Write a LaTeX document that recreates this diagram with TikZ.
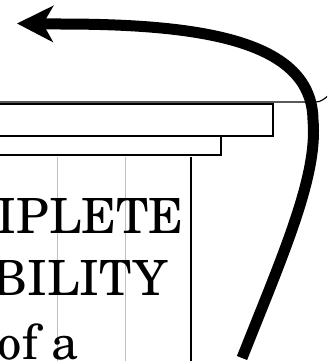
\documentclass[tikz,border=0pt]{standalone}
\usepackage{fontspec}
\setmainfont{TeX Gyre Schola}
\usetikzlibrary{arrows.meta}
\begin{document}
\begin{tikzpicture}[x=1pt,y=-1pt,
  boxstyle/.style={draw, line width=2pt, inner sep=0pt, fill=white},
  bigtext/.style={inner sep=0pt, font=\fontsize{48.5}{62}\selectfont},
  thinrule/.style={line width=1.2pt},
  grayrule/.style={draw=black!25, line width=1.3pt},
  blackrule/.style={draw=black, line width=1.5pt},
  bigarrow/.style={line width=11pt, -{Stealth[length=36pt,width=36pt,inset=10pt]}}]
\useasboundingbox (0,0) rectangle (327,361);
\clip (0,0) rectangle (327,361);
% thin connector along the top of the boxes
\coordinate (linestart) at (-5,102);
\coordinate (linebend) at (316,102);
\coordinate (lineend) at (330,94);
\draw[thinrule] (linestart) -- (linebend) .. controls (321,102) and (325,98.5) .. (lineend);
% boxes
\node[boxstyle, minimum width=230.8pt, minimum height=19.5pt] (box2) at (105.4,145.55) {};
\node[boxstyle, minimum width=283pt, minimum height=32.2pt] (box1) at (131.5,119.7) {};
% rules
\coordinate (g1top) at (57.5,157);
\coordinate (g1bot) at (57.5,365);
\coordinate (g2top) at (125.5,157);
\coordinate (g2bot) at (125.5,365);
\coordinate (b1top) at (191,157);
\coordinate (b1bot) at (191,365);
\draw[grayrule] (g1top) -- (g1bot);
\draw[grayrule] (g2top) -- (g2bot);
\draw[blackrule] (b1top) -- (b1bot);
% text
\node[bigtext, anchor=base east] (t1) at (184,233) {IPLETE};
\node[bigtext, anchor=base east] (t2) at (168,295) {BILITY};
\node[bigtext, anchor=base east] (t3) at (79,359) {of a};
% big arrow
\coordinate (arrowstart) at (242,358);
\coordinate (arrowtip) at (17,23.5);
\draw[bigarrow] (arrowstart) .. controls (285,250) and (318,175) .. (313,120)
  .. controls (312,40) and (200,24) .. (60,24) -- (arrowtip);
\end{tikzpicture}
\end{document}
